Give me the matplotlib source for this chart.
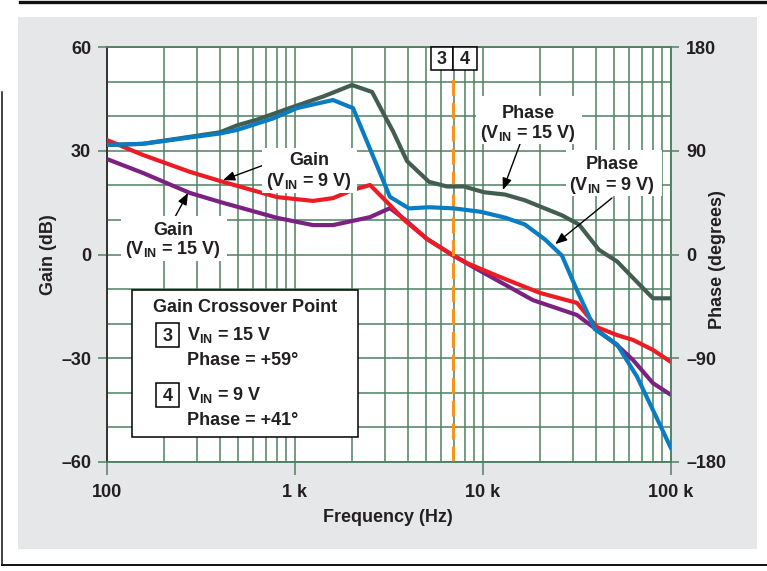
import matplotlib

matplotlib.use("Agg")
import matplotlib.pyplot as plt
from matplotlib.lines import Line2D
from matplotlib.patches import Rectangle

# --- data ------------------------------------------------------------------
# gain curves (dB, left axis)
freq_gain9 = [100, 155, 276, 414, 802, 1247, 1592, 2036, 2506, 3199, 3802, 5035,
              6760, 8222, 12310, 20080, 31620, 40370, 51640, 62780, 80190, 100000]
gain9 = [33.1, 28.8, 23.9, 21.0, 16.6, 15.5, 16.3, 18.7, 20.1, 14.3, 10.0, 4.5,
         0.1, -2.5, -6.5, -11.1, -14.0, -21.0, -23.3, -24.7, -27.6, -31.1]

freq_gain15 = [100, 155, 276, 399, 802, 1247, 1592, 2506, 3199, 3802, 5035, 6760,
               8850, 18450, 31620, 40370, 51640, 62780, 80190, 100000]
gain15 = [27.6, 23.6, 17.8, 15.2, 10.6, 8.5, 8.5, 10.8, 13.4, 10.3, 4.5, 0.1,
          -3.6, -13.2, -17.5, -21.8, -26.2, -30.5, -37.2, -40.6]

# phase curves (degrees, right axis)
freq_phase15 = [100, 155, 399, 491, 628, 975, 1409, 2009, 2570, 2940, 3320, 3944,
                5165, 6435, 7925, 10120, 13090, 16720, 20590, 26310, 32410, 41420,
                51640, 65170, 80190, 100000]
phase15 = [95, 96, 106, 112, 117, 128, 137, 147, 141, 123, 107, 81,
           63, 59, 59, 54, 52, 47, 41, 34, 26, 4,
           -6, -23, -38, -38]

freq_phase9 = [100, 155, 399, 491, 764, 1025, 1592, 2036, 3199, 4036, 5165, 7015,
               9755, 13090, 16720, 21380, 26310, 31620, 39430, 51640, 65960, 80190,
               100000]
phase9 = [95, 96, 105, 108, 118, 127, 134, 127, 50, 40, 41, 40,
          37, 32, 26, 13, -1, -31, -65, -78, -106, -135,
          -168]

crossover_freq = 6900

gain_ticks = [-60, -30, 0, 30, 60]
gain_labels = ["\u201360", "\u201330", "0", "30", "60"]
phase_ticks = [-180, -90, 0, 90, 180]
phase_labels = ["\u2013180", "\u201390", "0", "90", "180"]
freq_ticks = [100, 1000, 10000, 100000]
freq_labels = ["100", "1 k", "10 k", "100 k"]

# --- style ---------------------------------------------------------------------
W, H = 767, 571
GRID = "#4f8062"
INK = "#231f20"
C_RED = "#ed1c24"
C_PURPLE = "#7b2182"
C_BLUE = "#0a7cc1"
C_DARK = "#425e50"
C_ORANGE = "#f7941e"
FS = 13

plt.rcParams["font.family"] = ["Liberation Sans", "DejaVu Sans"]
plt.rcParams["font.weight"] = "bold"
plt.rcParams["mathtext.fontset"] = "custom"
plt.rcParams["mathtext.rm"] = "Liberation Sans:bold"
plt.rcParams["mathtext.it"] = "Liberation Sans:bold"
plt.rcParams["mathtext.bf"] = "Liberation Sans:bold"


def fx(x):
    return x / W


def fy(y):
    return 1 - y / H


fig = plt.figure(figsize=(W / 100, H / 100), dpi=100)
fig.patch.set_facecolor("white")

# grey panel + document frame lines
fig.add_artist(Rectangle((fx(18), fy(549)), fx(757) - fx(18), fy(17) - fy(549),
                         transform=fig.transFigure, facecolor="#e6e7e9",
                         edgecolor="none", zorder=0))
fig.add_artist(Line2D([fx(20), fx(767)], [fy(1.5), fy(1.5)], transform=fig.transFigure,
                      color="#111111", lw=2.4))
fig.add_artist(Line2D([fx(1.5), fx(1.5)], [fy(92), fy(565)], transform=fig.transFigure,
                      color="#111111", lw=1.1))
fig.add_artist(Line2D([fx(1.5), fx(767)], [fy(565), fy(565)], transform=fig.transFigure,
                      color="#111111", lw=1.4))

ax = fig.add_axes([fx(107), fy(462), fx(671) - fx(107), fy(47) - fy(462)])
ax.set_facecolor("white")
ax.set_xscale("log")
ax.set_xlim(100, 100000)
ax.set_ylim(-60, 60)
ax.set_xticks(freq_ticks)
ax.set_xticklabels(freq_labels)
ax.set_yticks(gain_ticks)
ax.set_yticklabels(gain_labels)
ax.set_yticks(range(-60, 61, 10), minor=True)
ax.grid(True, which="both", color=GRID, lw=1.1)
ax.tick_params(axis="y", which="major", direction="out", length=6.5, width=1.1,
               color=GRID, pad=5, labelsize=FS, labelcolor=INK)
ax.tick_params(axis="x", which="major", direction="out", length=9, width=1.1,
               color=GRID, pad=7, labelsize=FS, labelcolor=INK)
ax.tick_params(which="minor", length=0)
for side in ("top", "right", "bottom"):
    ax.spines[side].set_color(GRID)
    ax.spines[side].set_linewidth(1.1)
ax.spines["left"].set_color("#333333")
ax.spines["left"].set_linewidth(1.4)

ax.plot(freq_gain15, gain15, color=C_PURPLE, lw=3, zorder=3)
ax.plot(freq_gain9, gain9, color=C_RED, lw=3, zorder=4)

ax2 = ax.twinx()
ax2.set_ylim(-180, 180)
ax2.set_yticks(phase_ticks)
ax2.set_yticklabels(phase_labels)
ax2.tick_params(axis="y", direction="out", length=6, width=1.1, color=GRID, pad=5,
                labelsize=FS, labelcolor=INK)
for side in ("top", "right", "bottom"):
    ax2.spines[side].set_color(GRID)
    ax2.spines[side].set_linewidth(1.1)
ax2.spines["left"].set_visible(False)

ax2.plot(freq_phase15, phase15, color=C_DARK, lw=3, zorder=3)
ax2.plot(freq_phase9, phase9, color=C_BLUE, lw=3, zorder=3)

# crossover marker
lw_or = 2.2
ax2.axvline(crossover_freq, ymin=0, ymax=(462 - 75) / 415, color=C_ORANGE, lw=lw_or,
            dashes=(11.5 / lw_or, 5 / lw_or), zorder=2)
for x0, x1, lab in ((431, 453, "3"), (453, 477, "4")):
    fig.add_artist(Rectangle((fx(x0), fy(70)), fx(x1) - fx(x0), fy(47) - fy(70),
                             transform=fig.transFigure, facecolor="white",
                             edgecolor="black", lw=1.1, zorder=5))
    fig.text(fx((x0 + x1) / 2), fy(64), lab, ha="center", va="baseline",
             fontsize=FS, color=INK, zorder=6)

# axis titles
fig.text(fx(48), fy(255), "Gain (dB)", rotation=90, ha="center", va="center",
         fontsize=FS, color=INK)
fig.text(fx(718), fy(260), "Phase (degrees)", rotation=90, ha="center", va="center",
         fontsize=FS, color=INK)
fig.text(fx(388), fy(522), "Frequency (Hz)", ha="center", va="baseline",
         fontsize=FS, color=INK)


# curve labels with white backing
def label(box, cx, y1, y2, line1, line2):
    x0, y0, x1, yb = box
    fig.add_artist(Rectangle((fx(x0), fy(yb)), fx(x1) - fx(x0), fy(y0) - fy(yb),
                             transform=fig.transFigure, facecolor="white",
                             edgecolor="none", zorder=5))
    fig.text(fx(cx), fy(y1), line1, ha="center", va="baseline", fontsize=FS,
             color=INK, zorder=6)
    fig.text(fx(cx), fy(y2), line2, ha="center", va="baseline", fontsize=FS,
             color=INK, zorder=6)


def arrow(tail, tip, axis):
    axis.annotate("", xy=tip, xycoords="data",
                  xytext=(fx(tail[0]), fy(tail[1])), textcoords="figure fraction",
                  arrowprops=dict(arrowstyle="-|>,head_length=0.5,head_width=0.2",
                                  color="black", lw=1.0, mutation_scale=14,
                                  shrinkA=0, shrinkB=0), zorder=7)


label((262, 148, 357, 193), 309, 165, 186, "Gain", r"(V$_{\mathrm{IN}}$ = 9 V)")
label((121, 216, 227, 261), 173, 235, 254, "Gain", r"(V$_{\mathrm{IN}}$ = 15 V)")
label((476, 96, 582, 144), 528, 118, 138, "Phase", r"(V$_{\mathrm{IN}}$ = 15 V)")
label((566, 150, 662, 196), 612, 169, 190, "Phase", r"(V$_{\mathrm{IN}}$ = 9 V)")

arrow((272, 162), (414, 21.5), ax)
arrow((175, 217), (270, 17.8), ax)
arrow((520, 144), (12760, 56), ax2)
arrow((612, 198), (24220, 9), ax2)

# crossover legend box
fig.add_artist(Rectangle((fx(132), fy(437)), fx(358) - fx(132), fy(290) - fy(437),
                         transform=fig.transFigure, facecolor="white",
                         edgecolor="black", lw=1.1, zorder=5))
fig.text(fx(245), fy(312), "Gain Crossover Point", ha="center", va="baseline",
         fontsize=FS, color=INK, zorder=6)
for top, lab, vin, ph in ((323, "3", r"V$_{\mathrm{IN}}$ = 15 V", "Phase = +59\u00b0"),
                          (383, "4", r"V$_{\mathrm{IN}}$ = 9 V", "Phase = +41\u00b0")):
    fig.add_artist(Rectangle((fx(156), fy(top + 24)), fx(179) - fx(156), fy(top) - fy(top + 24),
                             transform=fig.transFigure, facecolor="white",
                             edgecolor="black", lw=1.1, zorder=6))
    fig.text(fx(167.5), fy(top + 18), lab, ha="center", va="baseline", fontsize=FS,
             color=INK, zorder=7)
    fig.text(fx(187), fy(top + 17), vin, ha="left", va="baseline", fontsize=FS,
             color=INK, zorder=7)
    fig.text(fx(187), fy(top + 42), ph, ha="left", va="baseline", fontsize=FS,
             color=INK, zorder=7)

fig.savefig("out.png", dpi=100)
